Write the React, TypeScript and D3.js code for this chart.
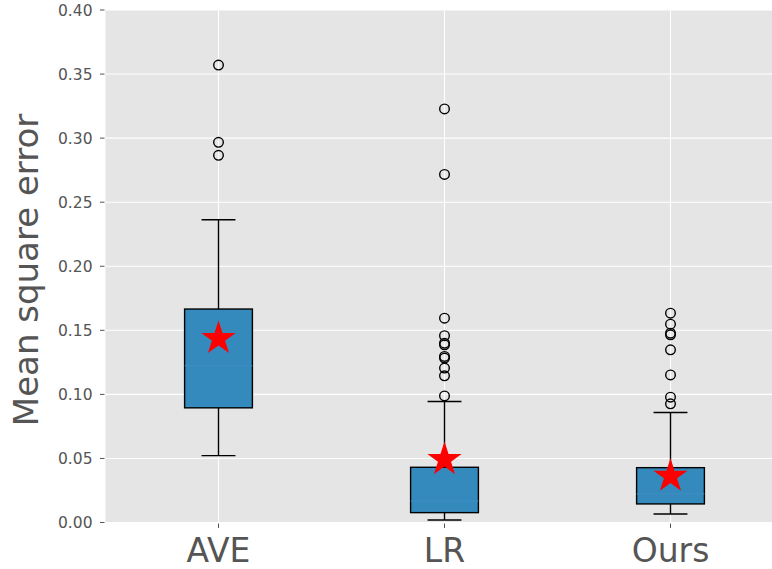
import React, { useEffect, useRef } from 'react';
import * as d3 from 'd3';

// box statistics
const categories = ['AVE', 'LR', 'Ours'];
const whiskerLow = [0.0522, 0.002, 0.0066];
const q1 = [0.0895, 0.0077, 0.0145];
const medians = [0.1223, 0.0168, 0.0223];
const q3 = [0.1666, 0.0431, 0.0428];
const whiskerHigh = [0.2363, 0.0944, 0.0858];
const means = [0.1436, 0.0491, 0.0361];
const outliers = [
  [0.357, 0.2967, 0.2866],
  [0.3228, 0.2717, 0.1595, 0.1458, 0.1400, 0.1387, 0.1296, 0.1283, 0.1205, 0.1145, 0.0988],
  [0.1634, 0.1548, 0.1478, 0.1465, 0.1348, 0.1152, 0.0978, 0.0926],
];
const yTicks = [0, 0.05, 0.1, 0.15, 0.2, 0.25, 0.3, 0.35, 0.4];

const W = 772;
const H = 569;

const App = () => {
  const ref = useRef<SVGSVGElement>(null);

  useEffect(() => {
    const svg = d3.select(ref.current);
    svg.selectAll('*').remove();

    const left = 105.5, top = 10, bottom = 522.5;
    const x = d3.scaleLinear().domain([0.5, 3.5]).range([left, left + 678]);
    const y = d3.scaleLinear().domain([0, 0.4]).range([bottom, top]);
    const half = (x(1.3) - x(1)) / 2; // box width 0.3

    // panel background
    svg.append('rect')
      .attr('x', left).attr('y', top)
      .attr('width', x(3.5) - left).attr('height', bottom - top)
      .attr('fill', '#E5E5E5');

    // grid
    svg.selectAll('.gy').data(yTicks).enter().append('line')
      .attr('x1', left).attr('x2', x(3.5))
      .attr('y1', d => y(d)).attr('y2', d => y(d))
      .attr('stroke', '#fff').attr('stroke-width', 1.1);
    svg.selectAll('.gx').data(categories).enter().append('line')
      .attr('x1', (d, i) => x(i + 1)).attr('x2', (d, i) => x(i + 1))
      .attr('y1', top).attr('y2', bottom)
      .attr('stroke', '#fff').attr('stroke-width', 1.1);

    // y axis ticks + labels
    const yAxis = svg.append('g');
    yTicks.forEach(t => {
      yAxis.append('line')
        .attr('x1', left - 5.5).attr('x2', left - 1)
        .attr('y1', y(t)).attr('y2', y(t))
        .attr('stroke', '#555').attr('stroke-width', 1);
      yAxis.append('text')
        .attr('x', left - 13).attr('y', y(t))
        .attr('dy', '0.36em')
        .attr('text-anchor', 'end')
        .attr('fill', '#555')
        .style('font-family', 'DejaVu Sans')
        .style('font-size', '15.5px')
        .text(t.toFixed(2));
    });

    // x ticks + labels
    categories.forEach((c, i) => {
      svg.append('line')
        .attr('x1', x(i + 1)).attr('x2', x(i + 1))
        .attr('y1', bottom + 1).attr('y2', bottom + 5.5)
        .attr('stroke', '#555').attr('stroke-width', 1);
      svg.append('text')
        .attr('x', x(i + 1)).attr('y', 561.5)
        .attr('text-anchor', 'middle')
        .attr('fill', '#555')
        .style('font-family', 'DejaVu Sans')
        .style('font-size', '33px')
        .text(c);
    });

    // y label
    svg.append('text')
      .attr('transform', 'translate(38,270) rotate(-90)')
      .attr('text-anchor', 'middle')
      .attr('fill', '#555')
      .style('font-family', 'DejaVu Sans')
      .style('font-size', '34px')
      .text('Mean square error');

    // boxes
    categories.forEach((c, i) => {
      const cx = x(i + 1);
      const g = svg.append('g');
      g.append('line')
        .attr('x1', cx).attr('x2', cx)
        .attr('y1', y(whiskerLow[i])).attr('y2', y(q1[i]))
        .attr('stroke', '#000').attr('stroke-width', 1.4);
      g.append('line')
        .attr('x1', cx).attr('x2', cx)
        .attr('y1', y(q3[i])).attr('y2', y(whiskerHigh[i]))
        .attr('stroke', '#000').attr('stroke-width', 1.4);
      [whiskerLow[i], whiskerHigh[i]].forEach(v => {
        g.append('line')
          .attr('x1', cx - half / 2).attr('x2', cx + half / 2)
          .attr('y1', y(v)).attr('y2', y(v))
          .attr('stroke', '#000').attr('stroke-width', 1.4);
      });
      g.append('rect')
        .attr('x', cx - half).attr('y', y(q3[i]))
        .attr('width', half * 2).attr('height', y(q1[i]) - y(q3[i]))
        .attr('fill', '#348ABD')
        .attr('stroke', '#000').attr('stroke-width', 1.4);
      g.append('line')
        .attr('x1', cx - half).attr('x2', cx + half)
        .attr('y1', y(medians[i])).attr('y2', y(medians[i]))
        .attr('stroke', '#3F8FC4').attr('stroke-width', 1);
      g.selectAll('circle').data(outliers[i]).enter().append('circle')
        .attr('cx', cx).attr('cy', d => y(d))
        .attr('r', 4.8)
        .attr('fill', 'none')
        .attr('stroke', '#000').attr('stroke-width', 1.4);
      g.append('path')
        .attr('d', d3.symbol(d3.symbolStar, (18 * 18) / 0.8908130915292852)())
        .attr('transform', `translate(${cx},${y(means[i])})`)
        .attr('fill', '#FF0000');
    });
  }, []);

  return (
    <div style={{ position: 'absolute', left: 0, top: 0 }}>
      <svg ref={ref} width={W} height={H} style={{ display: 'block', background: '#fff' }} />
    </div>
  );
};

export default App;
